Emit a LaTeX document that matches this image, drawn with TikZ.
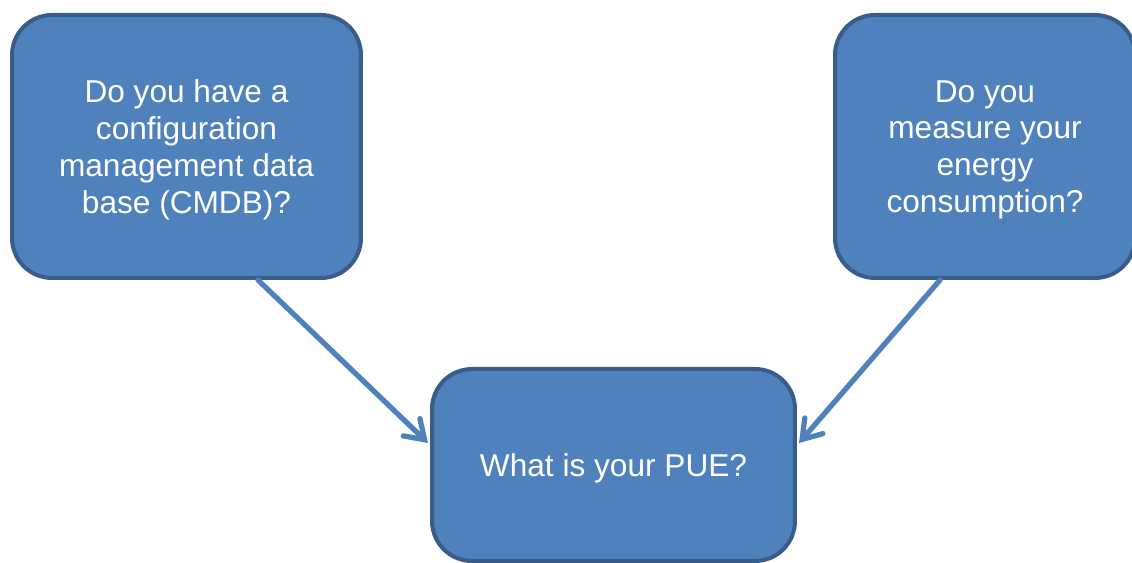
\documentclass[tikz,border=0pt]{standalone}
\usepackage{fontspec}
\setmainfont{Liberation Sans}
\usetikzlibrary{arrows.meta}
\definecolor{boxfill}{HTML}{4F81BD}
\definecolor{boxline}{HTML}{385D8A}

\begin{document}
\begin{tikzpicture}[x=0.02cm, y=-0.02cm,
        qbox/.style={draw=boxline, fill=boxfill, line width=2.3pt, rounded corners=0.8cm,
            text=white, align=center, inner sep=0pt, text depth=0pt,
            font=\fontsize{18}{21}\selectfont},
        link/.style={draw=boxfill, line width=3pt, line cap=round,
            -{Straight Barb[length=0.36cm, width=0.48cm, line cap=round]}}]
        \useasboundingbox (0,0) rectangle (1132,563);

        \node[qbox, minimum width=6.98cm, minimum height=5.26cm] (cmdb) at (186.5,146.5)
            {Do you have a\\configuration\\management data\\base (CMDB)?};

        \node[qbox, minimum width=6cm, minimum height=5.26cm] (energy) at (985,146.5)
            {Do you\\measure your\\energy\\consumption?};

        \node[qbox, minimum width=7.26cm, minimum height=3.84cm] (pue) at (613.5,465)
            {What is your PUE?};

        \draw[link] ([xshift=1.43cm]cmdb.south) -- ([xshift=-0.04cm, yshift=0.44cm]pue.west);
        \draw[link] ([xshift=-0.9cm]energy.south) -- ([xshift=0.04cm, yshift=0.44cm]pue.east);

    \end{tikzpicture}
\end{document}
